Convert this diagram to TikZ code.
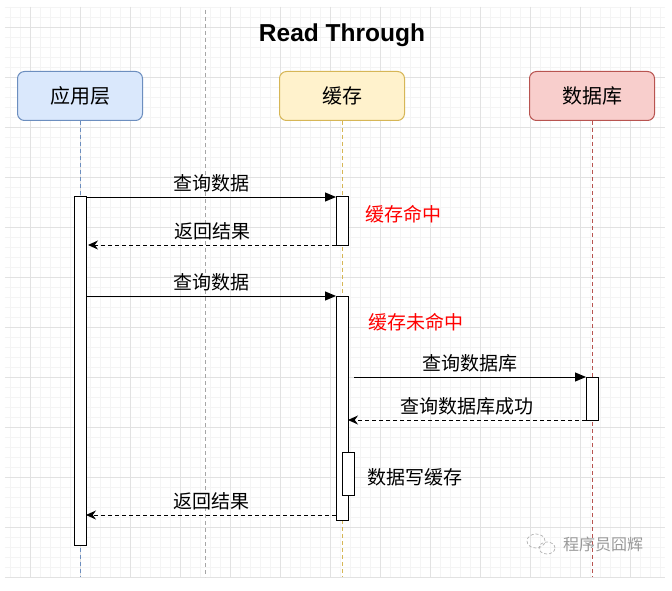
\documentclass[tikz,border=0pt]{standalone}
\usepackage{fontspec}
\setmainfont{Liberation Sans}
\newfontfamily\cjk{Noto Sans CJK SC}
\usetikzlibrary{arrows.meta,positioning}

\definecolor{appfill}{HTML}{DAE8FC}
\definecolor{appline}{HTML}{6C8EBF}
\definecolor{cachefill}{HTML}{FFF2CC}
\definecolor{cacheline}{HTML}{D6B656}
\definecolor{dbfill}{HTML}{F8CECC}
\definecolor{dbline}{HTML}{B85450}
\definecolor{minorgrid}{HTML}{F4F4F4}
\definecolor{majorgrid}{HTML}{E2E2E2}

\begin{document}
\begin{tikzpicture}[x=1pt, y=-1pt,
	head/.style={rectangle, rounded corners=7pt, draw, line width=1pt, minimum width=125pt, minimum height=49pt, font=\cjk\fontsize{20}{20}\selectfont},
	bar/.style={rectangle, draw, fill=white, minimum width=12pt, inner sep=0pt, line width=1pt},
	msg/.style={-{Triangle[length=11pt,width=9pt]}, line width=1pt},
	ret/.style={-{Stealth[length=10pt,width=9pt]}, dash pattern=on 4pt off 3pt, line width=1pt},
	lbl/.style={font=\cjk\fontsize{19}{19}\selectfont, inner sep=2pt},
	note/.style={font=\cjk\fontsize{19}{19}\selectfont, inner sep=0pt, anchor=west}]
	\useasboundingbox (0,0) rectangle (672,591);
	\fill[white] (0,0) rectangle (672,591);

	% Grid
	\foreach \gx in {10,20,...,660} \draw[minorgrid, line width=0.5pt] (\gx,7) -- (\gx,577);
	\foreach \gy in {7,17,...,577} \draw[minorgrid, line width=0.5pt] (5,\gy) -- (665,\gy);
	\foreach \gx in {30,80,...,630} \draw[majorgrid, line width=0.8pt] (\gx,7) -- (\gx,577);
	\foreach \gy in {27,77,...,577} \draw[majorgrid, line width=0.8pt] (5,\gy) -- (665,\gy);
	\draw[gray!70, dash pattern=on 4pt off 3pt, line width=0.6pt] (205,10) -- (205,577);

	% Title
	\node[font=\bfseries\fontsize{24.5}{28}\selectfont] (title) at (342,35) {Read Through};

	% Participants
	\node[head, fill=appfill, draw=appline] (app) at (80,96) {应用层};
	\node[head, fill=cachefill, draw=cacheline] (cache) at (342,96) {缓存};
	\node[head, fill=dbfill, draw=dbline] (db) at (592,96) {数据库};

	% Lifelines
	\coordinate (append) at (80,577);
	\coordinate (cacheend) at (342,577);
	\coordinate (dbend) at (592,577);
	\draw[appline, dash pattern=on 4pt off 3pt, line width=0.7pt] (app) -- (append);
	\draw[cacheline, dash pattern=on 4pt off 3pt, line width=0.7pt] (cache) -- (cacheend);
	\draw[dbline, dash pattern=on 4pt off 3pt, line width=0.7pt] (db) -- (dbend);

	% Activations
	\node[bar, minimum height=349pt, anchor=north] (appbar) at (80,196) {};
	\node[bar, minimum height=49pt, anchor=north] (hitbar) at (342,196) {};
	\node[bar, minimum height=224pt, anchor=north] (missbar) at (342,296) {};
	\node[bar, minimum height=43pt, anchor=north] (writebar) at (348,452) {};
	\node[bar, minimum height=43pt, anchor=north] (dbbar) at (592,377) {};

	% Message points
	\coordinate (q1) at (86,197);
	\coordinate (q1end) at (336,197);
	\coordinate (r1) at (336,245);
	\coordinate (r1end) at (88,245);
	\coordinate (q2) at (86,296);
	\coordinate (q2end) at (336,296);
	\coordinate (q3) at (354,377);
	\coordinate (q3end) at (586,377);
	\coordinate (r3) at (586,420);
	\coordinate (r3end) at (348,420);
	\coordinate (r2) at (336,515);
	\coordinate (r2end) at (86,515);

	% Arrows
	\draw[msg] (q1) -- (q1end) node[lbl, midway, above=2pt] {查询数据};
	\draw[ret] (r1) -- (r1end) node[lbl, midway, above=2pt] {返回结果};
	\draw[msg] (q2) -- (q2end) node[lbl, midway, above=2pt] {查询数据};
	\draw[msg] (q3) -- (q3end) node[lbl, midway, above=2pt] {查询数据库};
	\draw[ret] (r3) -- (r3end) node[lbl, midway, above=2pt] {查询数据库成功};
	\draw[ret] (r2) -- (r2end) node[lbl, midway, above=2pt] {返回结果};

	% Notes
	\node[note, text=red] (hit) at (365,214) {缓存命中};
	\node[note, text=red] (miss) at (368,322) {缓存未命中};
	\node[note] (write) at (367,477) {数据写缓存};

	% Watermark
	\draw[gray!60, line width=0.7pt, densely dashed] (536,541) circle[x radius=9pt, y radius=7pt];
	\draw[gray!60, line width=0.7pt, densely dashed] (547,548) circle[x radius=8pt, y radius=6pt];
	\node[font=\cjk\itshape\fontsize{16}{16}\selectfont, text=gray!80, anchor=west, inner sep=0pt] (mark) at (563,544) {程序员囧辉};
\end{tikzpicture}
\end{document}
